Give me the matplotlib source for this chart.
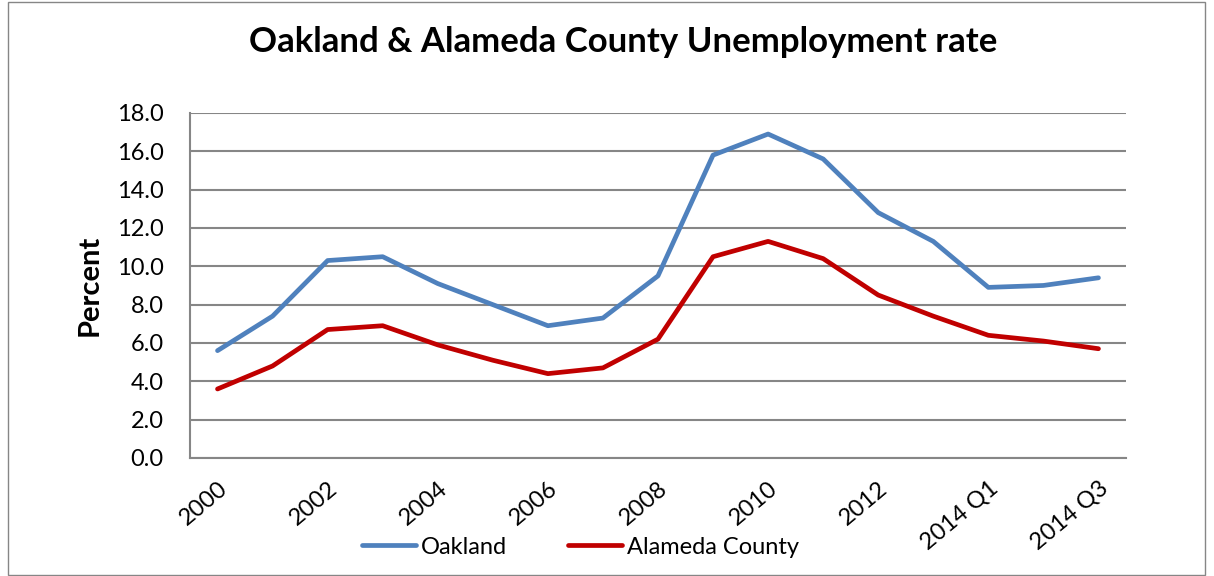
import matplotlib.pyplot as plt
from matplotlib.patches import Rectangle

categories = ["2000", "2001", "2002", "2003", "2004", "2005", "2006", "2007",
              "2008", "2009", "2010", "2011", "2012", "2013",
              "2014 Q1", "2014 Q2", "2014 Q3"]
oakland = [5.6, 7.4, 10.3, 10.5, 9.1, 8.0, 6.9, 7.3, 9.5, 15.8, 16.9, 15.6,
           12.8, 11.3, 8.9, 9.0, 9.4]
alameda = [3.6, 4.8, 6.7, 6.9, 5.9, 5.1, 4.4, 4.7, 6.2, 10.5, 11.3, 10.4,
           8.5, 7.4, 6.4, 6.1, 5.7]

plt.rcParams['font.family'] = ['Lato', 'DejaVu Sans']

fig = plt.figure(figsize=(12.14, 5.76), dpi=100)
ax = fig.add_axes([0.1565, 0.2049, 0.771, 0.599])

x = list(range(len(categories)))
ax.plot(x, oakland, color="#4F81BD", lw=3.4, label="Oakland", solid_capstyle="round")
ax.plot(x, alameda, color="#C00000", lw=3.4, label="Alameda County", solid_capstyle="round")

ax.set_xlim(-0.5, len(categories) - 0.5)
ax.set_ylim(0, 18)
ax.set_yticks([i * 2 for i in range(10)])
ax.set_yticklabels([f"{i * 2:.1f}" for i in range(10)], fontsize=17)
ax.set_xticks(x[::2])
ax.set_xticklabels(categories[::2], fontsize=17, rotation=40, ha="right",
                   rotation_mode="anchor")
ax.tick_params(length=0)
ax.tick_params(axis="y", pad=19)
ax.tick_params(axis="x", pad=14)

ax.grid(axis="y", color="#868686", lw=1.5)
ax.set_axisbelow(True)
for s in ["top", "right"]:
    ax.spines[s].set_visible(False)
for s in ["left", "bottom"]:
    ax.spines[s].set_color("#868686")
    ax.spines[s].set_linewidth(1.5)

ax.set_ylabel("Percent", fontsize=21, fontweight="bold", labelpad=10)
fig.suptitle("Oakland & Alameda County Unemployment rate", fontsize=25,
             fontweight="bold", x=0.513, y=0.955)

fig.legend(loc="center", bbox_to_anchor=(0.478, 0.05), ncol=2, frameon=False,
           fontsize=17, handlelength=2.3, handletextpad=0.2, columnspacing=2.6)

fig.patches.append(Rectangle((8 / 1214, 1 / 576), 1197 / 1214, 573 / 576,
                             transform=fig.transFigure, fill=False,
                             edgecolor="#868686", lw=1))

fig.savefig("out.png", dpi=100)
